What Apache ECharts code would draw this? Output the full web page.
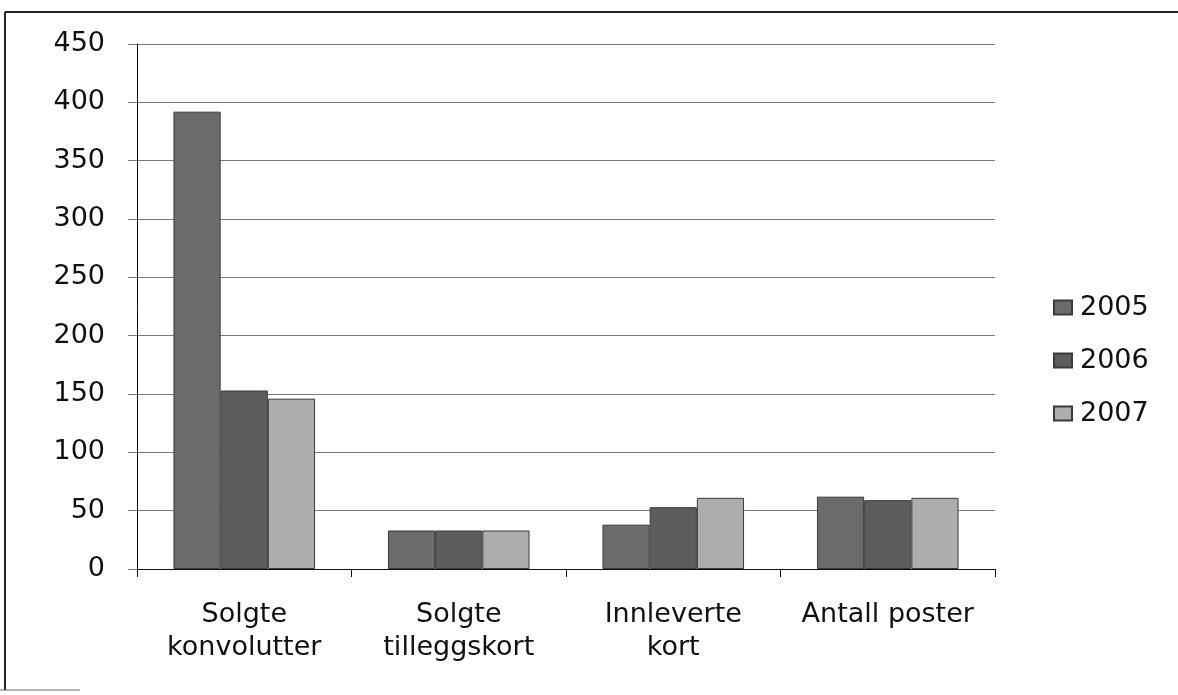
<!DOCTYPE html>
<html>
<head>
<meta charset="utf-8">
<script src="https://cdn.jsdelivr.net/npm/echarts@6/dist/echarts.min.js"></script>
<style>
html,body{margin:0;padding:0;background:#fff;}
#c{width:1178px;height:695px;}
</style>
</head>
<body>
<div id="c"></div>
<script>
const categories = ['Solgte\nkonvolutter', 'Solgte\ntilleggskort', 'Innleverte\nkort', 'Antall poster'];
const seriesNames = ['2005', '2006', '2007'];
const values2005 = [392, 33, 38, 62];
const values2006 = [153, 33, 53, 59];
const values2007 = [146, 33, 61, 61];
const seriesColors = ['#6a6c6a', '#5c5e5c', '#adadad'];
const yTicks = { min: 0, max: 450, interval: 50 };

const font = '"DejaVu Sans", sans-serif';
const allValues = [values2005, values2006, values2007];

const chart = echarts.init(document.getElementById('c'), null, { renderer: 'canvas' });
chart.setOption({
  backgroundColor: '#ffffff',
  animation: false,
  textStyle: { fontFamily: font },
  graphic: [
    { type: 'line', shape: { x1: 5, y1: 12, x2: 1178, y2: 12 }, style: { stroke: '#222', lineWidth: 2 } },
    { type: 'line', shape: { x1: 5, y1: 12, x2: 5, y2: 690 }, style: { stroke: '#222', lineWidth: 2 } },
    { type: 'line', shape: { x1: 0, y1: 690, x2: 80, y2: 690 }, style: { stroke: '#666', lineWidth: 1 } }
  ],
  grid: { left: 137, right: 183, top: 44, bottom: 126, containLabel: false },
  legend: {
    orient: 'vertical',
    left: 1048,
    top: 288,
    itemWidth: 18,
    itemHeight: 14,
    itemGap: 24,
    icon: 'rect',
    textStyle: { fontFamily: font, fontSize: 27, lineHeight: 29, color: '#111', padding: [0, 0, 0, 3] },
    data: seriesNames
  },
  xAxis: {
    type: 'category',
    data: categories,
    axisLine: { lineStyle: { color: '#111', width: 1 } },
    axisTick: { show: true, length: 8, lineStyle: { color: '#111' } },
    axisLabel: { fontFamily: font, fontSize: 27, color: '#111', margin: 29, lineHeight: 33, interval: 0 }
  },
  yAxis: {
    type: 'value',
    min: yTicks.min,
    max: yTicks.max,
    interval: yTicks.interval,
    axisLine: { show: true, lineStyle: { color: '#111', width: 1 } },
    axisTick: { show: true, length: 9, lineStyle: { color: '#777' } },
    axisLabel: { fontFamily: font, fontSize: 27, color: '#111', margin: 32 },
    splitLine: { lineStyle: { color: '#7a7a7a', width: 1 } }
  },
  series: seriesNames.map((n, i) => ({
    name: n,
    type: 'bar',
    data: allValues[i],
    barGap: '0%',
    barCategoryGap: '34%',
    itemStyle: { color: seriesColors[i], borderColor: '#3a3a3a', borderWidth: 1 }
  }))
});
</script>
</body>
</html>
